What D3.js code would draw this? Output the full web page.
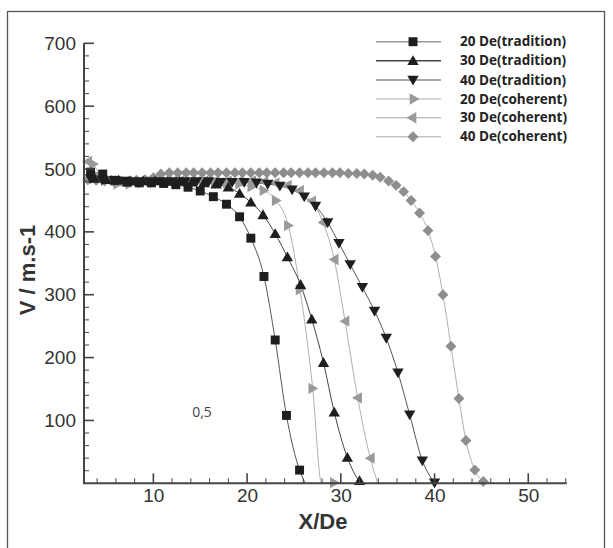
<!DOCTYPE html>
<html><head><meta charset="utf-8">
<script src="https://cdn.jsdelivr.net/npm/d3@7/dist/d3.min.js"></script>
<style>body{margin:0;background:#fff}svg{display:block}</style>
</head><body><svg id="c" width="613" height="548"></svg>
<script>
// ---- data ----
const xTicks = [10, 20, 30, 40, 50];
const yTicks = [100, 200, 300, 400, 500, 600, 700];
const legendLabels = ["20 De(tradition)", "30 De(tradition)", "40 De(tradition)", "20 De(coherent)", "30 De(coherent)", "40 De(coherent)"];
const annotation = "0,5";

const trad20X = [3.3, 4.6, 5.9, 7.2, 8.5, 9.8, 11.1, 12.4, 13.7, 15.0, 16.4, 17.8, 19.2, 20.4, 21.8, 23.0, 24.2, 25.6];
const trad20V = [495, 492, 482, 479, 478, 478, 477, 475, 471, 465, 456, 444, 424, 390, 329, 228, 108, 21];
const trad20Tail = [[26.2, 0]];

const trad30X = [3.7, 5.0, 6.3, 7.6, 8.9, 10.2, 11.5, 12.8, 14.1, 15.4, 16.7, 18.0, 19.2, 20.4, 21.7, 23.0, 24.3, 25.7, 26.9, 28.15, 29.3, 30.7, 32.0];
const trad30V = [485, 483, 482, 481, 481, 481, 480, 480, 479, 478, 476, 471, 461, 447, 427, 397, 360, 316, 261, 192, 113, 41, 4];
const trad30Tail = [[32.4, 0]];

const trad40X = [3.3, 4.5, 5.8, 7.0, 8.3, 9.6, 10.8, 12.1, 13.4, 14.6, 15.9, 17.2, 18.4, 19.7, 21.0, 22.2, 23.5, 24.8, 26.1, 27.3, 28.6, 29.8, 31.0, 32.3, 33.6, 34.85, 36.1, 37.35, 38.7, 40.0];
const trad40V = [485, 483, 482, 481, 480, 480, 480, 480, 480, 480, 480, 479, 479, 479, 478, 476, 473, 467, 456, 441, 415, 382, 348, 312, 274, 231, 176, 109, 36, 1];
const trad40Tail = [];

const coh20X = [3.6, 4.9, 6.2, 7.5, 8.8, 10.1, 11.4, 12.7, 14.0, 15.3, 16.6, 17.9, 19.2, 20.5, 21.8, 23.1, 24.4, 25.65, 27.0, 29.3];
const coh20V = [508, 482, 476, 476, 478, 479, 480, 480, 480, 480, 479, 478, 476, 472, 466, 450, 410, 308, 151, 1];
const coh20Tail = [[27.95, 0]];

const coh30X = [3.0, 3.8, 5.1, 6.4, 7.7, 9.0, 10.3, 11.5, 12.8, 14.1, 15.4, 16.6, 17.9, 19.2, 20.5, 21.8, 23.0, 24.3, 25.6, 26.9, 28.1, 29.3, 30.45, 31.8, 33.15];
const coh30V = [512, 488, 482, 480, 480, 480, 481, 481, 481, 481, 481, 481, 481, 481, 481, 480, 478, 474, 466, 449, 415, 356, 258, 136, 40];
const coh30Tail = [[33.95, 0]];

const coh40X = [3.0, 3.9, 4.8, 5.6, 6.5, 7.4, 8.2, 9.1, 10.0, 10.8, 11.7, 12.6, 13.5, 14.3, 15.2, 16.1, 16.9, 17.8, 18.7, 19.5, 20.4, 21.3, 22.1, 23.0, 23.9, 24.7, 25.6, 26.5, 27.3, 28.2, 29.1, 29.9, 30.8, 31.7, 32.5, 33.4, 34.2, 35.1, 35.9, 36.7, 37.5, 38.4, 39.3, 40.1, 40.9, 41.75, 42.6, 43.35, 44.3, 45.2];
const coh40V = [483, 482, 481, 481, 481, 481, 482, 483, 486, 492, 494, 494, 494, 494, 494, 494, 494, 494, 494, 494, 494, 494, 494, 494, 494, 494, 494, 494, 494, 494, 494, 494, 493, 493, 492, 490, 487, 481, 474, 464, 450, 430, 402, 361, 300, 218, 135, 68, 21, 3];
const coh40Tail = [];

// ---- styles ----
const styles = [
  {x: trad20X, v: trad20V, tail: trad20Tail, shape: "square", fill: "#1e1e1e", line: "#555", leg: "#9a9a9a", size: 80, rot: 0},
  {x: trad30X, v: trad30V, tail: trad30Tail, shape: "tri", fill: "#1e1e1e", line: "#444", leg: "#444", size: 56, rot: 0},
  {x: trad40X, v: trad40V, tail: trad40Tail, shape: "tri", fill: "#1e1e1e", line: "#555", leg: "#8a8a8a", size: 56, rot: 180},
  {x: coh20X, v: coh20V, tail: coh20Tail, shape: "tri", fill: "#9a9a9a", line: "#b0b0b0", leg: "#c4c4c4", size: 56, rot: 90},
  {x: coh30X, v: coh30V, tail: coh30Tail, shape: "tri", fill: "#9a9a9a", line: "#b0b0b0", leg: "#c4c4c4", size: 56, rot: -90},
  {x: coh40X, v: coh40V, tail: coh40Tail, shape: "diamond", fill: "#8e8e8e", line: "#b0b0b0", leg: "#c4c4c4", size: 60, rot: 45}
];

const svg = d3.select("#c");
svg.append("rect").attr("x", 7.5).attr("y", 11.5).attr("width", 597).attr("height", 560)
  .attr("fill", "#fff").attr("stroke", "#555").attr("stroke-width", 1.3);

const L = 84, R = 566.7, T = 43.3, B = 483.3;
const x = d3.scaleLinear().domain([2.6, 54.1]).range([L, R]);
const y = d3.scaleLinear().domain([0, 700]).range([B, T]);

function symPath(s) {
  const t = s.shape === "square" || s.shape === "diamond" ? d3.symbolSquare : d3.symbolTriangle;
  return d3.symbol().type(t).size(s.size)();
}

const plot = svg.append("g");
const order = [3, 4, 5, 0, 1, 2];
order.forEach(i => {
  const s = styles[i];
  const pts = s.x.map((xx, k) => [xx, s.v[k]]).concat(s.tail).sort((a, b) => a[0] - b[0]);
  plot.append("path").datum(pts)
    .attr("d", d3.line().x(d => x(d[0])).y(d => y(d[1])).curve(d3.curveMonotoneX))
    .attr("fill", "none").attr("stroke", s.line).attr("stroke-width", 1);
});
order.forEach(i => {
  const s = styles[i];
  const p = symPath(s);
  const dy = s.shape === "tri" ? (s.rot === 0 ? 1 : s.rot === 180 ? -1 : 0) : 0;
  const dx = s.shape === "tri" ? (s.rot === 90 ? -1 : s.rot === -90 ? 1 : 0) : 0;
  plot.append("g").selectAll("path").data(s.x.map((xx, k) => [xx, s.v[k]])).join("path")
    .attr("d", p)
    .attr("transform", d => `translate(${x(d[0]) + dx},${y(d[1]) + dy}) rotate(${s.rot})`)
    .attr("fill", s.fill);
});

// ---- axes ----
const axisG = svg.append("g");
const xAxis = d3.axisBottom(x).tickValues(xTicks).tickSize(0).tickPadding(5).tickFormat(d3.format("d"));
const yAxis = d3.axisLeft(y).tickValues(yTicks).tickSize(0).tickPadding(8).tickFormat(d3.format("d"));
const gx = axisG.append("g").attr("transform", `translate(0,${B})`).call(xAxis);
const gy = axisG.append("g").attr("transform", `translate(${L},0)`).call(yAxis);
[gx, gy].forEach(g => {
  g.select(".domain").remove();
  g.selectAll("text").attr("font-family", "Liberation Sans, Arial, sans-serif").attr("font-size", 19).attr("fill", "#333");
});
gx.selectAll("text").attr("dy", "0.72em");
// ticks (inward)
const tickCol = "#444";
d3.range(4, 55, 2).forEach(v => {
  const major = v % 10 === 0;
  axisG.append("line").attr("x1", x(v)).attr("x2", x(v)).attr("y1", B).attr("y2", B - (major ? 10 : 5))
    .attr("stroke", tickCol).attr("stroke-width", major ? 1.6 : 1);
});
d3.range(20, 701, 20).forEach(v => {
  const major = v % 100 === 0;
  axisG.append("line").attr("x1", L).attr("x2", L + (major ? 10 : 5)).attr("y1", y(v)).attr("y2", y(v))
    .attr("stroke", tickCol).attr("stroke-width", major ? 1.6 : 1);
});
axisG.append("path").attr("d", `M${L},${T}V${B}H${R}`).attr("fill", "none").attr("stroke", "#444").attr("stroke-width", 2);

// titles
svg.append("text").attr("x", 323).attr("y", 529).attr("text-anchor", "middle")
  .attr("font-family", "Liberation Sans, Arial, sans-serif").attr("font-weight", "bold").attr("font-size", 22).attr("fill", "#333")
  .text("X/De");
svg.append("text").attr("transform", "translate(35,270) rotate(-90)").attr("text-anchor", "middle")
  .attr("font-family", "Liberation Sans, Arial, sans-serif").attr("font-weight", "bold").attr("font-size", 22).attr("fill", "#333")
  .text("V / m.s-1");
svg.append("text").attr("x", 202).attr("y", 417).attr("text-anchor", "middle")
  .attr("font-family", "Open Sans, sans-serif").attr("font-size", 14).attr("fill", "#444").text(annotation);

// ---- legend ----
const legY = [41.7, 60.7, 80, 99, 117.7, 136.7];
const leg = svg.append("g");
styles.forEach((s, i) => {
  const yy = legY[i];
  leg.append("line").attr("x1", 376).attr("x2", 441).attr("y1", yy).attr("y2", yy).attr("stroke", s.leg).attr("stroke-width", 1.4);
  const dy = s.shape === "tri" ? (s.rot === 0 ? 1 : s.rot === 180 ? -1 : 0) : 0;
  leg.append("path").attr("d", symPath(s)).attr("transform", `translate(413,${yy + dy}) rotate(${s.rot})`).attr("fill", s.fill);
  leg.append("text").attr("x", 460).attr("y", yy).attr("dy", "0.35em")
    .attr("font-family", "Open Sans, sans-serif").attr("font-weight", "bold").attr("font-size", 13.5).attr("fill", "#222")
    .text(legendLabels[i]);
});
</script></body></html>
